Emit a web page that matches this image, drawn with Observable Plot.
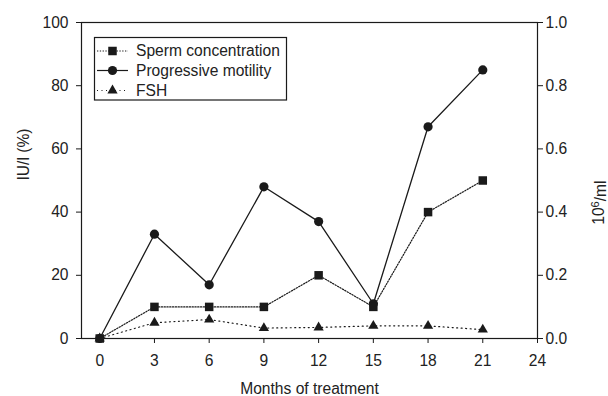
<!DOCTYPE html>
<html>
<head>
<meta charset="utf-8">
<script src="https://cdn.jsdelivr.net/npm/d3@7"></script>
<script src="https://cdn.jsdelivr.net/npm/@observablehq/plot@0.6"></script>
<style>
  body { margin: 0; background: #fff; }
  svg { font-family: "Liberation Sans", Arial, Helvetica, sans-serif; }
</style>
</head>
<body>
<div id="chart"></div>
<script>
// ---- data ----
const months = [0, 3, 6, 9, 12, 15, 18, 21];
const spermConcentration = [0, 0.1, 0.1, 0.1, 0.2, 0.1, 0.4, 0.5]; // 10^6/ml (right axis)
const progressiveMotility = [0, 33, 17, 48, 37, 11, 67, 85];      // % (left axis)
const fsh = [0, 5, 6, 3.3, 3.5, 4, 4, 2.8];                       // IU/l (left axis)

const xTicks = [0, 3, 6, 9, 12, 15, 18, 21, 24];
const yLeftTicks = [0, 20, 40, 60, 80, 100];
const yRightTicks = [0, 0.2, 0.4, 0.6, 0.8, 1.0];

const seriesNames = ["Sperm concentration", "Progressive motility", "FSH"];

// right axis is 0..1.0 mapped onto 0..100
const rightFactor = 100;

const sperm = months.map((m, i) => ({month: m, value: spermConcentration[i] * rightFactor}));
const motility = months.map((m, i) => ({month: m, value: progressiveMotility[i]}));
const fshData = months.map((m, i) => ({month: m, value: fsh[i]}));

const ink = "#1a1a1a";
const fs = 15.6;

const chart = Plot.plot({
  width: 608,
  height: 396,
  marginLeft: 81,
  marginRight: 71,
  marginTop: 22,
  marginBottom: 58,
  style: {fontSize: fs + "px", fontFamily: "'Liberation Sans', Arial, Helvetica, sans-serif", color: "#222", background: "#fff"},
  x: {domain: [-1, 24]},
  y: {domain: [0, 100]},
  marks: [
    Plot.frame({stroke: ink, strokeWidth: 1.2}),
    Plot.axisX({ticks: xTicks, tickSize: 5, tickPadding: 11, label: null, stroke: ink}),
    Plot.axisY({anchor: "left", ticks: yLeftTicks, tickSize: 5, tickPadding: 8, label: null, stroke: ink}),
    Plot.axisY({anchor: "right", ticks: yRightTicks.map(d => d * rightFactor), tickSize: 5, tickPadding: 3,
      tickFormat: d => (d / rightFactor).toFixed(1), label: null, stroke: ink}),
    Plot.text(["Months of treatment"], {frameAnchor: "bottom", dy: 50, lineAnchor: "middle", fill: "#222"}),
    Plot.text(["IU/l (%)"], {frameAnchor: "left", dx: -58, rotate: -90, lineAnchor: "middle", fill: "#222"}),
    Plot.text(["10⁶/ml"], {frameAnchor: "right", dx: 61, rotate: -90, lineAnchor: "middle", fill: "#222", className: "right-title"}),
    // lines
    Plot.line(fshData, {x: "month", y: "value", stroke: ink, strokeWidth: 1.2, strokeDasharray: "1,3.5"}),
    Plot.line(sperm, {x: "month", y: "value", stroke: ink, strokeWidth: 1.2, strokeDasharray: "1.3,1.5"}),
    Plot.line(motility, {x: "month", y: "value", stroke: ink, strokeWidth: 1.3}),
    // markers
    Plot.dot(fshData, {x: "month", y: "value", symbol: "triangle", r: 3.8, fill: ink, stroke: "none"}),
    Plot.dot(motility, {x: "month", y: "value", symbol: "circle", r: 4.6, fill: ink, stroke: "none"}),
    Plot.dot(sperm, {x: "month", y: "value", symbol: "square", r: 4.8, fill: ink, stroke: "none"})
  ]
});

document.getElementById("chart").appendChild(chart);

const svg = d3.select(chart);

// superscript for right axis title
svg.selectAll("g.right-title text").each(function () {
  const t = d3.select(this);
  t.text(null);
  t.append("tspan").text("10");
  t.append("tspan").attr("dy", "-0.45em").attr("font-size", "11px").text("6");
  t.append("tspan").attr("dy", "0.45em").text("/ml");
});

// ---- legend (inside the plot, upper left) ----
const lg = svg.append("g").attr("class", "legend");
lg.append("rect")
  .attr("x", 94.5).attr("y", 37.5).attr("width", 192).attr("height", 62.5)
  .attr("fill", "#fff").attr("stroke", ink).attr("stroke-width", 1.2);
const rows = [
  {name: seriesNames[0], dash: "1.3,1.5", symbol: d3.symbolSquare, size: Math.PI * 4.8 * 4.8},
  {name: seriesNames[1], dash: null, symbol: d3.symbolCircle, size: Math.PI * 4.6 * 4.6},
  {name: seriesNames[2], dash: "1,3.5", symbol: d3.symbolTriangle, size: Math.PI * 3.8 * 3.8}
];
const rowY = [51, 70.5, 90.5];
rows.forEach((r, i) => {
  const y = rowY[i];
  lg.append("line").attr("x1", 97).attr("x2", 128).attr("y1", y).attr("y2", y)
    .attr("stroke", ink).attr("stroke-width", 1.2).attr("stroke-dasharray", r.dash);
  lg.append("path").attr("d", d3.symbol(r.symbol, r.size)()).attr("transform", `translate(112.5,${y})`).attr("fill", ink);
  lg.append("text").attr("x", 136).attr("y", y).attr("dy", "0.35em")
    .attr("text-anchor", "start")
    .attr("font-size", fs).attr("fill", "#222").text(r.name);
});
</script>
</body>
</html>
